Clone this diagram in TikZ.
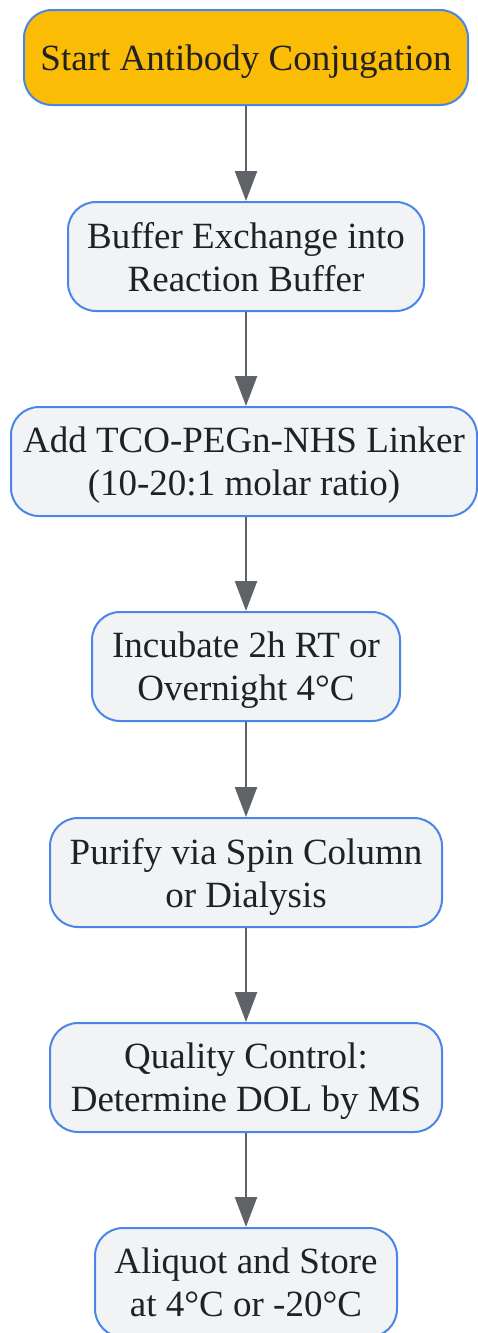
\documentclass[tikz,border=0pt]{standalone}
\usepackage{fontspec}
\setmainfont{Liberation Serif}
\usetikzlibrary{arrows.meta}
\definecolor{startfill}{HTML}{FBBC05}
\definecolor{boxfill}{HTML}{F1F3F4}
\definecolor{boxline}{HTML}{4A86E8}
\definecolor{arrowgray}{HTML}{5F6368}
\definecolor{textgray}{HTML}{202124}

\begin{document}
\begin{tikzpicture}[
            x = 1pt, y = 1pt,
            every node/.style={text depth=0pt, align=center, text=textgray,
                font=\fontsize{37}{43}\selectfont},
            stepbox/.style={draw=boxline, fill=boxfill, line width=2pt,
                rounded corners=28pt, minimum height=109pt, inner sep=0pt},
            startbox/.style={stepbox, fill=startfill, minimum height=95pt},
            line/.style={draw=arrowgray, line width=2.5pt,
                -{Triangle[width=22pt, length=30pt]}},
            ]
        \useasboundingbox (0, 0) rectangle (478, -1333);

        \node[startbox, minimum width=444pt] (0) at (246, -57.5) {Start Antibody Conjugation};
        \node[stepbox, minimum width=356pt] (1) at (246, -256.5) {Buffer Exchange into\\Reaction Buffer};
        \node[stepbox, minimum width=466pt] (2) at (244, -461.5) {Add TCO-PEGn-NHS Linker\\(10-20:1 molar ratio)};
        \node[stepbox, minimum width=308pt] (3) at (246, -666.5) {Incubate 2h RT or\\Overnight 4°C};
        \node[stepbox, minimum width=392pt] (4) at (246, -872.5) {Purify via Spin Column\\or Dialysis};
        \node[stepbox, minimum width=392pt] (5) at (246, -1077.5) {Quality Control:\\Determine DOL by MS};
        \node[stepbox, minimum width=302pt] (6) at (246, -1282.5) {Aliquot and Store\\at 4°C or -20°C};

        \draw[line] (0) -- (1);
        \draw[line] (1) -- (2.north -| 1.south);
        \draw[line] (2.south -| 1.south) -- (3);
        \draw[line] (3) -- (4);
        \draw[line] (4) -- (5);
        \draw[line] (5) -- (6);
    \end{tikzpicture}
\end{document}
